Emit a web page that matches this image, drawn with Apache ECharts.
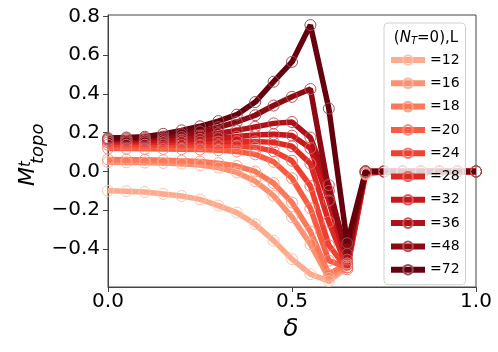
<!DOCTYPE html>
<html>
<head>
<meta charset="utf-8">
<script src="https://cdn.jsdelivr.net/npm/echarts@6/dist/echarts.min.js"></script>
<style>
html,body{margin:0;padding:0;background:#fff;}
#chart{width:498px;height:352px;}
</style>
</head>
<body>
<div id="chart"></div>
<script>
// delta values (x)
var delta = [0, 0.05, 0.1, 0.15, 0.2, 0.25, 0.3, 0.35, 0.4, 0.45, 0.5,
             0.55, 0.6, 0.65, 0.7, 0.75, 0.8, 0.85, 0.9, 0.95, 1.0];

var sizes = ['12', '16', '18', '20', '24', '28', '32', '36', '48', '72'];

// M^t_topo for each L
var L12 = [-0.100,-0.102,-0.106,-0.116,-0.127,-0.144,-0.176,-0.212,-0.272,-0.357,-0.452,-0.530,-0.565,-0.495,-0.010,0,0,0,0,0,0];
var L16 = [0.048,0.047,0.046,0.044,0.040,0.033,0.020,-0.005,-0.050,-0.125,-0.235,-0.375,-0.550,-0.485,-0.015,0,0,0,0,0,0];
var L18 = [0.062,0.061,0.060,0.058,0.055,0.051,0.043,0.028,0.000,-0.060,-0.160,-0.310,-0.530,-0.475,-0.010,0,0,0,0,0,0];
var L20 = [0.118,0.118,0.117,0.116,0.115,0.113,0.110,0.103,0.088,0.050,-0.035,-0.190,-0.460,-0.495,-0.010,0,0,0,0,0,0];
var L24 = [0.138,0.138,0.138,0.138,0.137,0.136,0.135,0.132,0.124,0.105,0.055,-0.075,-0.380,-0.505,-0.005,0,0,0,0,0,0];
var L28 = [0.150,0.150,0.150,0.151,0.152,0.153,0.154,0.155,0.155,0.150,0.130,0.040,-0.260,-0.495,0,0,0,0,0,0,0];
var L32 = [0.158,0.158,0.159,0.161,0.164,0.168,0.173,0.180,0.188,0.192,0.185,0.120,-0.150,-0.480,0,0,0,0,0,0,0];
var L36 = [0.164,0.165,0.167,0.171,0.177,0.185,0.197,0.212,0.230,0.248,0.255,0.175,-0.070,-0.455,0,0,0,0,0,0,0];
var L48 = [0.168,0.170,0.173,0.180,0.192,0.207,0.228,0.255,0.290,0.340,0.385,0.425,-0.100,-0.425,0,0,0,0,0,0,0];
var L72 = [0.172,0.175,0.179,0.194,0.212,0.233,0.260,0.293,0.358,0.463,0.565,0.755,0.325,-0.370,0,0,0,0,0,0,0];

var allData = [L12, L16, L18, L20, L24, L28, L32, L36, L48, L72];

var yTicks = [-0.4, -0.2, 0, 0.2, 0.4, 0.6, 0.8];

// Reds colormap samples
var colors = ['#fcab8e', '#fc9171', '#fb7858', '#f85d42', '#f0402f',
              '#dd2924', '#c6171c', '#ae1117', '#8e0912', '#67000d'];

function lighten(hex, t) {
    var r = parseInt(hex.substr(1, 2), 16), g = parseInt(hex.substr(3, 2), 16), b = parseInt(hex.substr(5, 2), 16);
    r = Math.round(r + (255 - r) * t); g = Math.round(g + (255 - g) * t); b = Math.round(b + (255 - b) * t);
    return 'rgb(' + r + ',' + g + ',' + b + ')';
}

var series = [];
for (var i = 0; i < sizes.length; i++) {
    var pts = [];
    for (var j = 0; j < delta.length; j++) {
        pts.push([delta[j], allData[i][j]]);
    }
    series.push({
        name: '=' + sizes[i],
        type: 'line',
        data: pts,
        symbol: 'circle',
        symbolSize: 11,
        showAllSymbol: true,
        lineStyle: { color: colors[i], width: 5.5 },
        itemStyle: { color: 'rgba(255,255,255,0)', borderColor: lighten(colors[i], 0.3), borderWidth: 1 },
        emphasis: { disabled: true }
    });
}

var myChart = echarts.init(document.getElementById('chart'));
myChart.setOption({
    animation: false,
    grid: { left: 108, right: 22, top: 15, bottom: 65, show: true, borderColor: '#444', borderWidth: 1 },
    xAxis: {
        type: 'value',
        min: 0,
        max: 1,
        interval: 0.5,
        axisLine: { show: true, onZero: false, lineStyle: { color: '#444', width: 1 } },
        axisTick: { show: true, inside: false, length: 5, lineStyle: { color: '#444' } },
        axisLabel: {
            margin: 5,
            color: '#000',
            fontFamily: 'DejaVu Sans',
            fontSize: 20,
            formatter: function (v) { return v.toFixed(1); }
        },
        splitLine: { show: false }
    },
    yAxis: {
        type: 'value',
        min: -0.596,
        max: 0.807,
        axisLine: { show: true, onZero: false, lineStyle: { color: '#444', width: 1 } },
        axisTick: { show: true, inside: false, length: 5, customValues: yTicks, lineStyle: { color: '#444' } },
        axisLabel: {
            margin: 8,
            color: '#000',
            fontFamily: 'DejaVu Sans',
            fontSize: 20,
            customValues: yTicks,
            formatter: function (v) { return v < 0 ? '\u2212' + Math.abs(v).toFixed(1) : v.toFixed(1); }
        },
        splitLine: { show: false }
    },
    legend: {
        orient: 'vertical',
        left: 384,
        top: 23,
        padding: [30, 6, 8, 4],
        itemWidth: 34,
        itemHeight: 12,
        itemGap: 9.3,
        lineStyle: { width: 6 },
        backgroundColor: 'rgba(255,255,255,0.8)',
        borderColor: '#d0d0d0',
        borderWidth: 1,
        borderRadius: 4,
        textStyle: { fontFamily: 'DejaVu Sans', fontSize: 14, color: '#000' },
        data: series.map(function (s) { return s.name; })
    },
    graphic: [
        {
            type: 'text', x: 426, y: 38, z: 100,
            style: {
                text: '({i|N}{s|T}=0),L',
                align: 'center', verticalAlign: 'middle',
                fontFamily: 'DejaVu Sans', fontSize: 15, fill: '#000',
                rich: {
                    i: { fontFamily: 'DejaVu Sans', fontStyle: 'italic', fontSize: 15 },
                    s: { fontFamily: 'DejaVu Sans', fontStyle: 'italic', fontSize: 10, verticalAlign: 'bottom', padding: [6, 0, 0, 0] }
                }
            }
        },
        {
            type: 'text', x: 291, y: 329,
            style: { text: '\u03b4', align: 'center', verticalAlign: 'middle', fontFamily: 'DejaVu Sans', fontStyle: 'italic', fontSize: 25, fill: '#000' }
        },
        {
            type: 'text', x: 28, y: 186, rotation: Math.PI / 2,
            style: { text: 'M', align: 'left', verticalAlign: 'middle', fontFamily: 'DejaVu Sans', fontStyle: 'italic', fontSize: 22, fill: '#000' }
        },
        {
            type: 'text', x: 26, y: 167, rotation: Math.PI / 2,
            style: { text: 't', align: 'left', verticalAlign: 'middle', fontFamily: 'DejaVu Sans', fontStyle: 'italic', fontSize: 15, fill: '#000' }
        },
        {
            type: 'text', x: 38, y: 164, rotation: Math.PI / 2,
            style: { text: 'topo', align: 'left', verticalAlign: 'middle', fontFamily: 'DejaVu Sans', fontStyle: 'italic', fontSize: 18, fill: '#000' }
        }
    ],
    series: series
});
</script>
</body>
</html>
